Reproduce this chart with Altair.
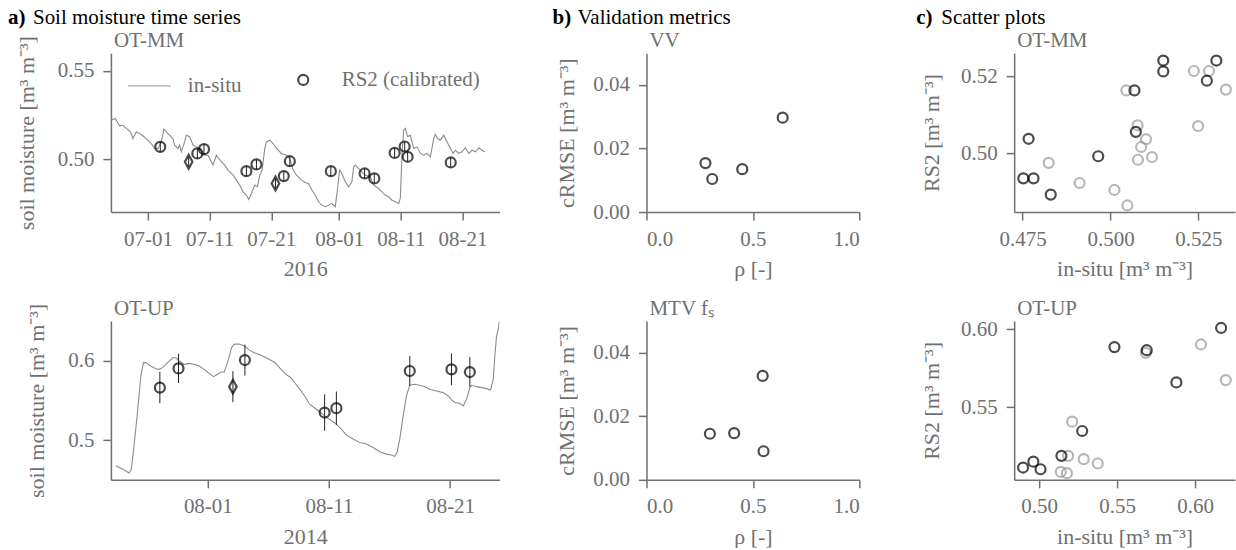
import altair as alt
import pandas as pd

FONT = "Liberation Serif"
GREY = "#707070"
LINE_GREY = "#8c8c8c"
LIGHT = "#9a9a9a"
FS = 21
TFS = 22

# ---------------- a) time series -----------------
# OT-MM (2016), days since 2016-07-01
mm_days = [-6.0, -5.30, -4.60, -4.06, -3.52, -2.81, -2.44, -1.89, -1.08, -0.27, 0.54, 1.08, 1.62, 2.16, 2.60,
           3.25, 4.06, 4.33, 4.87, 5.14, 5.41, 5.95, 6.22, 6.76, 7.31, 7.85, 8.39, 9.20, 9.74, 10.01, 10.55,
           11.09, 11.90, 12.45, 12.99, 13.80, 14.34, 14.88, 15.42, 15.96, 16.34, 16.77, 17.32, 17.75, 18.13,
           18.51, 18.94, 19.21, 19.75, 20.29, 20.83, 21.64, 22.46, 23.00, 23.54, 24.08, 24.89, 25.49, 26.03,
           26.57, 27.11, 27.65, 28.19, 28.73, 29.27, 29.82, 30.36, 30.74, 31.06, 31.44, 31.98, 32.52, 33.06,
           33.33, 33.60, 34.15, 34.69, 35.23, 36.04, 36.58, 37.39, 37.93, 38.47, 39.02, 39.56, 40.10, 40.64,
           40.91, 41.18, 41.45, 41.72, 42.10, 42.53, 43.07, 43.61, 44.16, 44.70, 45.24, 45.78, 46.32, 46.59,
           46.97, 47.40, 47.94, 48.49, 49.03, 49.46, 49.84, 50.38, 50.92, 51.46, 52.00, 52.54, 53.08, 53.63,
           54.17, 54.60]
mm_vals = [0.5222, 0.5231, 0.5190, 0.5193, 0.5175, 0.5156, 0.5118, 0.5156, 0.5141, 0.5118, 0.5090, 0.5062,
           0.5062, 0.5099, 0.5171, 0.5146, 0.5118, 0.5081, 0.5062, 0.5081, 0.5043, 0.5099, 0.5137, 0.5128,
           0.5081, 0.5071, 0.5062, 0.5024, 0.5024, 0.5005, 0.4968, 0.5024, 0.4987, 0.4968, 0.4940, 0.4911,
           0.4883, 0.4855, 0.4817, 0.4799, 0.4774, 0.4808, 0.4855, 0.4846, 0.4911, 0.4940, 0.5062, 0.5099,
           0.5109, 0.5090, 0.5062, 0.5034, 0.5024, 0.5005, 0.4940, 0.4911, 0.4883, 0.4870, 0.4864, 0.4827,
           0.4799, 0.4761, 0.4742, 0.4733, 0.4742, 0.4752, 0.4733, 0.4836, 0.4940, 0.4921, 0.4874, 0.4846,
           0.4874, 0.4958, 0.4968, 0.4949, 0.4930, 0.4911, 0.4902, 0.4855, 0.4836, 0.4817, 0.4799, 0.4789,
           0.4770, 0.4761, 0.4752, 0.4780, 0.5024, 0.5165, 0.5175, 0.5128, 0.5137, 0.5062, 0.5071, 0.5034,
           0.5024, 0.5034, 0.5015, 0.5118, 0.5141, 0.5118, 0.5109, 0.5137, 0.5099, 0.5062, 0.5034, 0.5052,
           0.5034, 0.5043, 0.5066, 0.5034, 0.5052, 0.5043, 0.5066, 0.5052, 0.5043]
mm_rs2_days = [2.00, 8.01, 9.09, 15.96, 17.59, 22.02, 23.00, 29.65, 35.12, 36.69, 39.99, 41.61, 42.10, 49.08]
mm_rs2_vals = [0.5071, 0.5034, 0.5058, 0.4934, 0.4972, 0.4906, 0.4990, 0.4934, 0.4921, 0.4893, 0.5037,
               0.5073, 0.5015, 0.4983]
mm_rs2_err = [0.0027, 0.0027, 0.0027, 0.0027, 0.0027, 0.0027, 0.0027, 0.0027, 0.0027, 0.0027, 0.0027,
              0.0027, 0.0027, 0.0027]
mm_dia_days = [6.60, 20.67]
mm_dia_vals = [0.4987, 0.4864]
mm_dia_err = [0.0027, 0.0027]

# OT-UP (2014), days since 2014-08-01
up_days = [-7.60, -7.05, -6.50, -6.31, -6.09, -5.81, -5.53, -5.31, -5.12, -4.71, -4.30, -4.02, -3.74, -3.33,
           -2.92, -2.64, -2.37, -1.96, -1.54, -1.13, -0.71, -0.30, 0.11, 0.47, 0.80, 1.08, 1.35, 1.63, 1.96,
           2.18, 2.59, 3.01, 3.42, 3.83, 4.25, 4.66, 5.07, 5.49, 5.76, 6.04, 6.45, 6.86, 7.27, 7.69, 7.99,
           8.40, 8.96, 9.64, 10.20, 10.61, 11.02, 11.44, 11.99, 12.54, 13.09, 13.64, 14.19, 14.74, 15.15,
           15.43, 15.62, 15.84, 16.12, 16.39, 16.67, 17.08, 17.50, 17.91, 18.32, 18.87, 19.42, 19.84, 20.11,
           20.39, 20.80, 21.08, 21.35, 21.63, 21.77, 22.18, 22.59, 23.00, 23.34, 23.56, 23.69, 23.83, 23.97,
           24.06]
up_vals = [0.4678, 0.4636, 0.4586, 0.4636, 0.4929, 0.5347, 0.5807, 0.5975, 0.5975, 0.5933, 0.5899, 0.5891,
           0.5912, 0.5975, 0.6037, 0.6037, 0.5995, 0.5954, 0.5966, 0.5954, 0.5933, 0.5891, 0.5841, 0.5799,
           0.5828, 0.5857, 0.5857, 0.5975, 0.6163, 0.6209, 0.6209, 0.6184, 0.6133, 0.6100, 0.6079, 0.6050,
           0.6016, 0.5983, 0.5941, 0.5891, 0.5828, 0.5786, 0.5703, 0.5619, 0.5556, 0.5452, 0.5389, 0.5305,
           0.5243, 0.5201, 0.5138, 0.5063, 0.5013, 0.4971, 0.4950, 0.4908, 0.4854, 0.4824, 0.4812, 0.4795,
           0.4845, 0.5013, 0.5305, 0.5556, 0.5690, 0.5703, 0.5690, 0.5673, 0.5640, 0.5619, 0.5598, 0.5556,
           0.5506, 0.5473, 0.5464, 0.5431, 0.5514, 0.5661, 0.5690, 0.5673, 0.5661, 0.5648, 0.5631, 0.5765,
           0.6058, 0.6309, 0.6393, 0.6490]
up_rs2_days = [-3.96, -2.42, 3.06, 9.64, 10.61, 16.67, 20.11, 21.63]
up_rs2_vals = [0.5661, 0.5903, 0.6008, 0.5347, 0.5402, 0.5870, 0.5891, 0.5857]
up_rs2_err = [0.0197, 0.0184, 0.0195, 0.0230, 0.0210, 0.0188, 0.0200, 0.0188]
up_dia_days = [2.07]
up_dia_vals = [0.5673]
up_dia_err = [0.0195]

# ---------------- b) validation metrics -----------------
vv_rho = [0.277, 0.309, 0.450, 0.640]
vv_crmse = [0.0154, 0.0104, 0.0135, 0.0297]
mtv_rho = [0.298, 0.412, 0.546, 0.550]
mtv_crmse = [0.0145, 0.0147, 0.0327, 0.0090]

# ---------------- c) scatter plots -----------------
mm_sc_black_x = [0.4752, 0.4781, 0.4767, 0.4830, 0.4965, 0.5068, 0.5072, 0.5150, 0.5150, 0.5274, 0.5301]
mm_sc_black_y = [0.4936, 0.4936, 0.5038, 0.4894, 0.4993, 0.5163, 0.5056, 0.5240, 0.5212, 0.5188, 0.5240]
mm_sc_grey_x = [0.4824, 0.4912, 0.5011, 0.5048, 0.5045, 0.5077, 0.5101, 0.5087, 0.5078, 0.5118, 0.5237,
                0.5280, 0.5249, 0.5328]
mm_sc_grey_y = [0.4976, 0.4924, 0.4906, 0.4866, 0.5163, 0.5073, 0.5037, 0.5017, 0.4984, 0.4991, 0.5213,
                0.5213, 0.5071, 0.5165]
up_sc_black_x = [0.4897, 0.4963, 0.5009, 0.5143, 0.5276, 0.5483, 0.5690, 0.5880, 0.6167]
up_sc_black_y = [0.5111, 0.5149, 0.5100, 0.5186, 0.5346, 0.5885, 0.5865, 0.5658, 0.6008]
up_sc_grey_x = [0.5139, 0.5178, 0.5186, 0.5212, 0.5286, 0.5376, 0.5684, 0.6038, 0.6197]
up_sc_grey_y = [0.5083, 0.5075, 0.5186, 0.5406, 0.5165, 0.5137, 0.5848, 0.5902, 0.5673]

UNIT = "[m\u00b3 m\u207b\u00b3]"
SERIES = ["in-situ", "RS2 (calibrated)"]
DIAMOND = "M0,-1L0.55,0L0,1L-0.55,0Z"
PT_SIZE = 100
PT_SW = 2.2


def to_dates(base, days):
    idx = pd.Timestamp(base) + pd.to_timedelta(days, unit="D")
    return list(idx.strftime("%Y-%m-%dT%H:%M:%S"))


def pts_frame(base, days, vals, errs):
    return pd.DataFrame({
        "t": to_dates(base, days),
        "v": vals,
        "lo": [v - e for v, e in zip(vals, errs)],
        "hi": [v + e for v, e in zip(vals, errs)],
        "series": [SERIES[1]] * len(vals),
    })


def txt(text, x, y, color, weight="normal", size=FS):
    return alt.Chart(alt.Data(values=[{"k": 1}])).mark_text(
        text=text, align="left", baseline="alphabetic", font=FONT, fontSize=size,
        fontWeight=weight, color=color).encode(x=alt.value(x), y=alt.value(y))


def heading(letter, text, dx_px):
    return [txt(letter, dx_px, -29, "black", "bold"), txt(text, dx_px + 25, -29, "black")]


def subtitle(text):
    return txt(text, 3, -6, GREY)


XLAB = dict(labelPadding=8, titlePadding=10)


def ts_panel(base, ldays, lvals, rdays, rvals, rerr, ddays, dvals, derr, xdom, xticks, ydom, yticks,
             yfmt, year, title, legend=False, extra=None):
    line_df = pd.DataFrame({"t": to_dates(base, ldays), "v": lvals})
    rs = pts_frame(base, rdays, rvals, rerr)
    dia = pts_frame(base, ddays, dvals, derr)
    both = pd.concat([rs, dia], ignore_index=True)
    xs = alt.Scale(domain=xdom)
    ys = alt.Scale(domain=ydom, nice=False, zero=False)
    xax = alt.Axis(values=xticks, format="%m-%d", title=year, **XLAB)
    yax = alt.Axis(values=yticks, format=yfmt, title="soil moisture " + UNIT, labelPadding=9,
                   titlePadding=19)
    X = alt.X("t:T", scale=xs, axis=xax)
    Y = alt.Y("v:Q", scale=ys, axis=yax)
    line = alt.Chart(line_df).mark_line(color=LINE_GREY, strokeWidth=1.1, clip=True).encode(x=X, y=Y)
    err = alt.Chart(both).mark_rule(color="#222222", strokeWidth=1).encode(
        x="t:T", y="lo:Q", y2="hi:Q")
    if legend:
        lg = alt.Legend(title=None, orient="none", legendX=16, legendY=10, direction="horizontal",
                        columns=2, columnPadding=39, labelFont=FONT, labelFontSize=FS,
                        labelColor=GREY, labelOffset=16, padding=0)
        pts = alt.Chart(rs).mark_point(filled=False).encode(
            x="t:T", y="v:Q",
            shape=alt.Shape("series:N", scale=alt.Scale(domain=SERIES, range=["stroke", "circle"]),
                            legend=lg),
            stroke=alt.Stroke("series:N", scale=alt.Scale(domain=SERIES, range=[LINE_GREY, "black"]),
                              legend=lg),
            size=alt.Size("series:N",
                          scale=alt.Scale(type="ordinal", domain=SERIES, range=[1850, PT_SIZE]),
                          legend=lg),
            strokeWidth=alt.StrokeWidth("series:N",
                                        scale=alt.Scale(type="ordinal", domain=SERIES,
                                                        range=[1.1, PT_SW]),
                                        legend=lg),
        )
    else:
        pts = alt.Chart(rs).mark_point(filled=False, shape="circle", size=PT_SIZE, strokeWidth=PT_SW,
                                       color="black").encode(x="t:T", y="v:Q")
    dpts = alt.Chart(dia).mark_point(filled=False, shape=DIAMOND, size=190, strokeWidth=PT_SW,
                                     color="black").encode(x="t:T", y="v:Q")
    layers = [line, err, pts, dpts, subtitle(title)] + (extra or [])
    return alt.layer(*layers).properties(width=389, height=159)


mm_xticks = [alt.DateTime(year=2016, month=m, date=d) for m, d in [(7, 1), (7, 11), (7, 21), (8, 1), (8, 11), (8, 21)]]
up_xticks = [alt.DateTime(year=2014, month=m, date=d) for m, d in [(8, 1), (8, 11), (8, 21)]]

a_top = ts_panel("2016-07-01", mm_days, mm_vals, mm_rs2_days, mm_rs2_vals, mm_rs2_err,
                 mm_dia_days, mm_dia_vals, mm_dia_err,
                 [alt.DateTime(year=2016, month=6, date=25), alt.DateTime(year=2016, month=8, date=27)],
                 mm_xticks, [0.4703, 0.56], [0.50, 0.55], ".2f", "2016", "OT-MM", legend=True,
                 extra=heading("a)", "Soil moisture time series", -103))
a_bot = ts_panel("2014-08-01", up_days, up_vals, up_rs2_days, up_rs2_vals, up_rs2_err,
                 up_dia_days, up_dia_vals, up_dia_err,
                 [alt.DateTime(year=2014, month=7, date=24), alt.DateTime(year=2014, month=8, date=25, hours=2)],
                 up_xticks, [0.45, 0.65], [0.5, 0.6], ".1f", "2014", "OT-UP")


def metric_panel(rho, crmse, title, extra=None):
    df = pd.DataFrame({"rho": rho, "crmse": crmse})
    pts = alt.Chart(df).mark_point(filled=False, shape="circle", size=PT_SIZE, strokeWidth=PT_SW,
                                   color="black").encode(
        x=alt.X("rho:Q", scale=alt.Scale(domain=[0, 1], nice=False),
                axis=alt.Axis(values=[0, 0.5, 1.0], format=".1f", title="\u03c1 [-]", **XLAB)),
        y=alt.Y("crmse:Q", scale=alt.Scale(domain=[0, 0.05], nice=False),
                axis=alt.Axis(values=[0, 0.02, 0.04], format=".2f", title="cRMSE " + UNIT,
                              labelPadding=9, titlePadding=14)))
    return alt.layer(pts, subtitle(title), *(extra or [])).properties(width=213, height=159)


b_top = metric_panel(vv_rho, vv_crmse, "VV", extra=heading("b)", "Validation metrics", -94))
b_bot = metric_panel(mtv_rho, mtv_crmse, "MTV f\u209b")


def scatter_panel(bx, by, gx, gy, xdom, xticks, xfmt, ydom, yticks, yfmt, title, extra=None):
    dfb = pd.DataFrame({"x": bx, "y": by})
    dfg = pd.DataFrame({"x": gx, "y": gy})
    X = alt.X("x:Q", scale=alt.Scale(domain=xdom, nice=False, zero=False),
              axis=alt.Axis(values=xticks, format=xfmt, title="in-situ " + UNIT, **XLAB))
    Y = alt.Y("y:Q", scale=alt.Scale(domain=ydom, nice=False, zero=False),
              axis=alt.Axis(values=yticks, format=yfmt, title="RS2 " + UNIT, labelPadding=9,
                            titlePadding=17))
    g = alt.Chart(dfg).mark_point(filled=False, shape="circle", size=PT_SIZE, strokeWidth=PT_SW,
                                  color=LIGHT).encode(x=X, y=Y)
    b = alt.Chart(dfb).mark_point(filled=False, shape="circle", size=PT_SIZE, strokeWidth=PT_SW,
                                  color="black").encode(x="x:Q", y="y:Q")
    return alt.layer(g, b, subtitle(title), *(extra or [])).properties(width=221, height=159)


c_top = scatter_panel(mm_sc_black_x, mm_sc_black_y, mm_sc_grey_x, mm_sc_grey_y,
                      [0.4726, 0.5354], [0.475, 0.500, 0.525], ".3f", [0.4849, 0.5259], [0.50, 0.52],
                      ".2f", "OT-MM", extra=heading("c)", "Scatter plots", -98))
c_bot = scatter_panel(up_sc_black_x, up_sc_black_y, up_sc_grey_x, up_sc_grey_y,
                      [0.484, 0.6256], [0.50, 0.55, 0.60], ".2f", [0.5032, 0.6053], [0.55, 0.60],
                      ".2f", "OT-UP")

VSP = 18
col_a = alt.vconcat(a_top, a_bot, spacing=VSP).resolve_scale(x="independent", y="independent")
col_b = alt.vconcat(b_top, b_bot, spacing=VSP).resolve_scale(x="independent", y="independent")
col_c = alt.vconcat(c_top, c_bot, spacing=VSP).resolve_scale(x="independent", y="independent")

ab = alt.hconcat(col_a, col_b, spacing=53).resolve_scale(x="independent", y="independent")
chart = alt.hconcat(ab, col_c, spacing=56).resolve_scale(
    x="independent", y="independent"
).properties(
    padding={"left": 8, "top": 7, "right": 0, "bottom": 0}
).configure(
    font=FONT
).configure_view(
    stroke=None
).configure_axis(
    grid=False, domainColor=GREY, tickColor=GREY, labelColor=GREY, titleColor=GREY,
    labelFont=FONT, titleFont=FONT, labelFontSize=FS, titleFontSize=TFS, titleFontWeight="normal",
    tickSize=8, domainWidth=1.5, tickWidth=1.5
)

chart.save("out.html", embed_options={"renderer": "svg", "actions": False})
